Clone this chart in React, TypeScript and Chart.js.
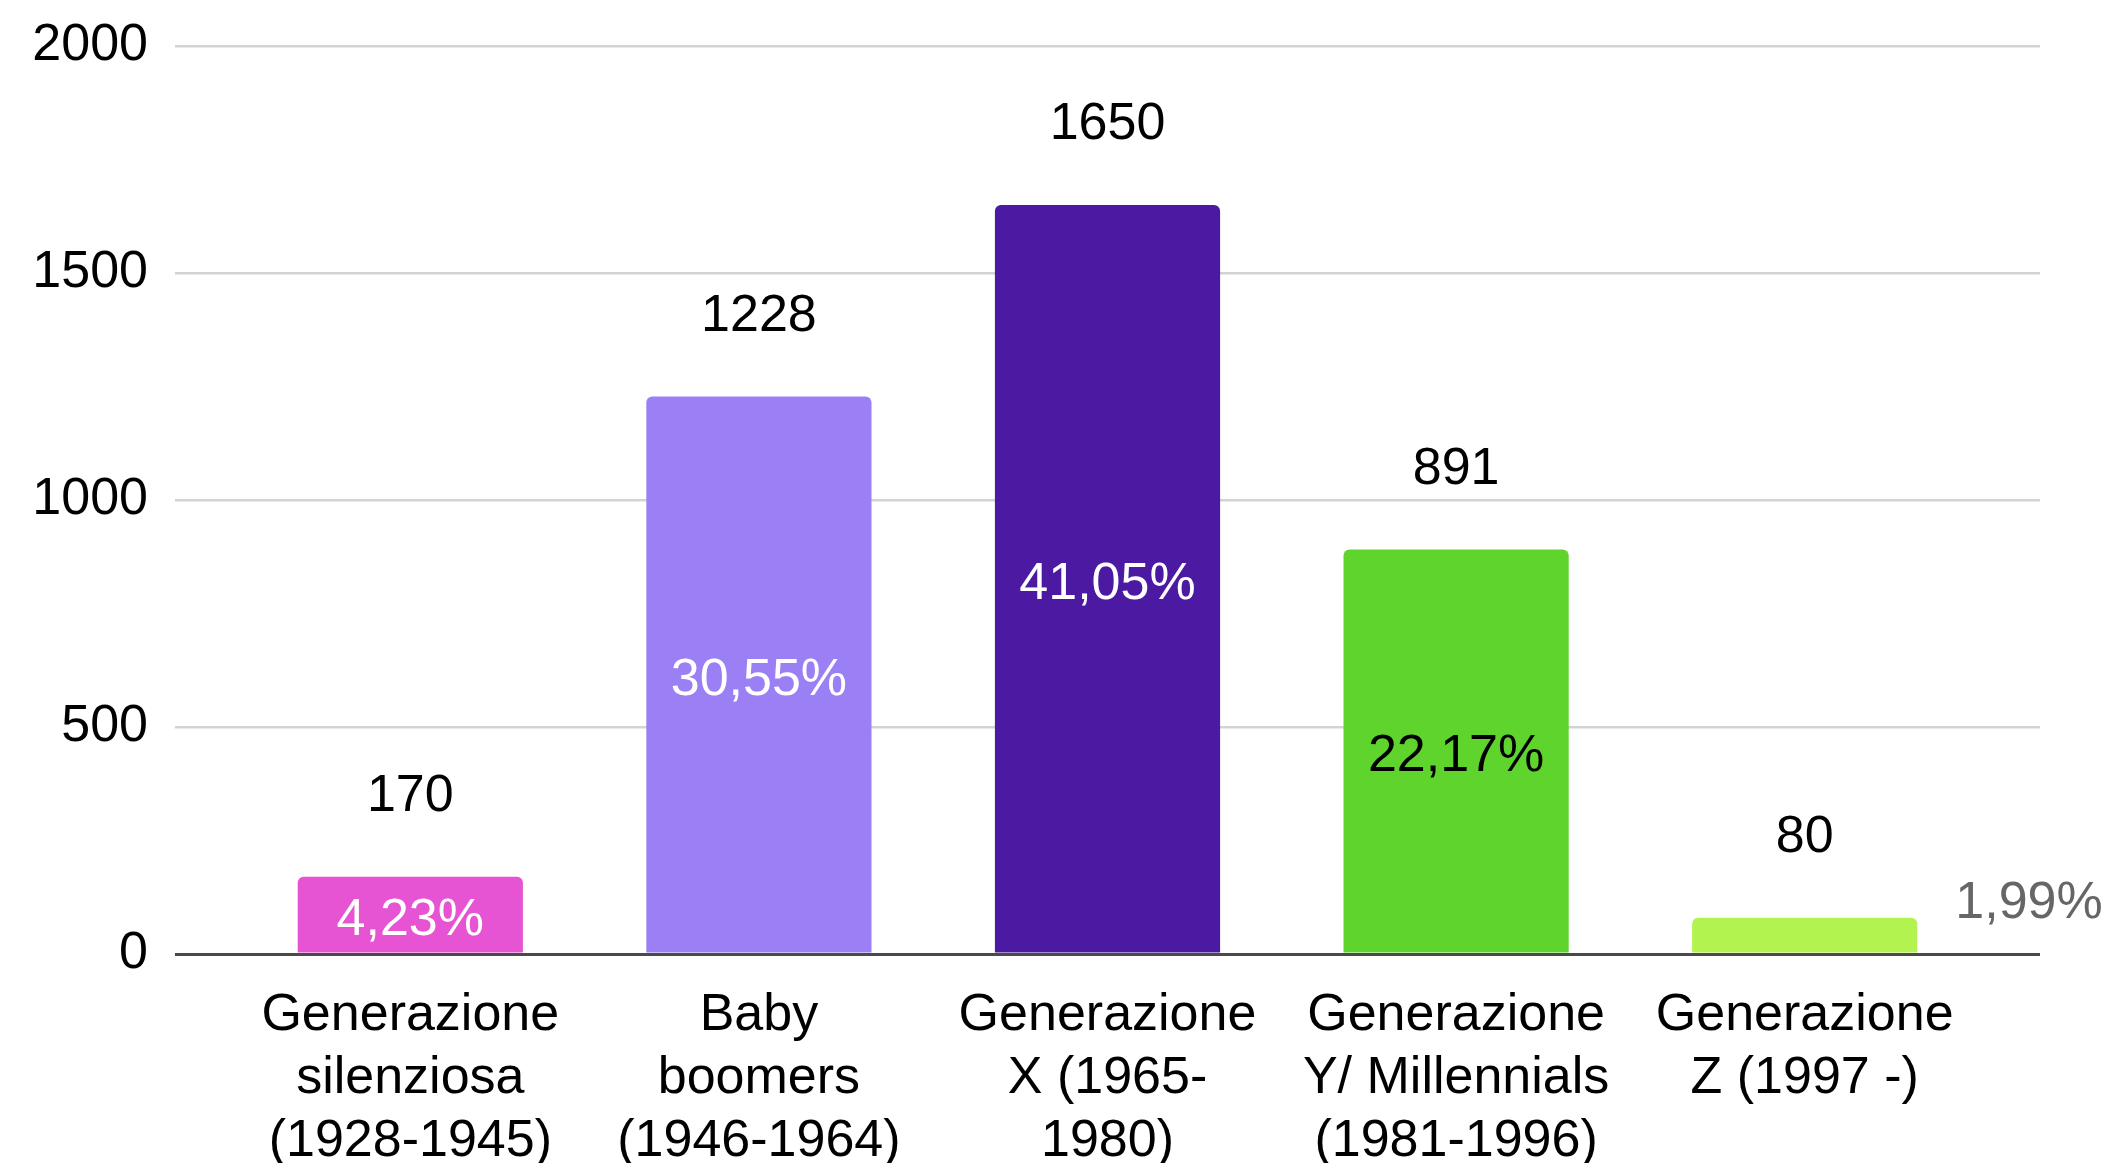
import React, { useEffect, useRef } from "react";
import { Chart, registerables } from "chart.js";

Chart.register(...registerables);

const categories: string[][] = [
  ["Generazione", "silenziosa", "(1928-1945)"],
  ["Baby", "boomers", "(1946-1964)"],
  ["Generazione", "X (1965-", "1980)"],
  ["Generazione", "Y/ Millennials", "(1981-1996)"],
  ["Generazione", "Z (1997 -)"],
];
const counts: number[] = [170, 1228, 1650, 891, 80];
const percentages: number[] = [4.23, 30.55, 41.05, 22.17, 1.99];
const yTicks: number[] = [0, 500, 1000, 1500, 2000];

const barColors = ["#e653d3", "#9b7ff4", "#4c1aa2", "#5ed42d", "#b3f350"];
const pctColors = ["#ffffff", "#ffffff", "#ffffff", "#000000", "#666666"];
const FONT = "'Liberation Sans', Arial, Helvetica, sans-serif";
const FS = 52;

const labelPlugin = {
  id: "barLabels",
  afterDatasetsDraw(chart: any) {
    const ctx = chart.ctx;
    const meta = chart.getDatasetMeta(0);
    ctx.save();
    ctx.font = `${FS}px ${FONT}`;
    meta.data.forEach((bar: any, i: number) => {
      const { x, y, base, width } = bar.getProps(["x", "y", "base", "width"], true);
      ctx.fillStyle = "#000000";
      ctx.textAlign = "center";
      ctx.textBaseline = "middle";
      ctx.fillText(String(counts[i]), x, y - 80);
      const txt = percentages[i].toFixed(2).replace(".", ",") + "%";
      const h = base - y;
      ctx.fillStyle = pctColors[i];
      if (h > FS * 1.2) {
        ctx.textAlign = "center";
        ctx.fillText(txt, x, (y + base) / 2 + 6);
      } else {
        ctx.textAlign = "left";
        ctx.fillText(txt, x + width / 2 + 38, y - 14);
      }
    });
    ctx.restore();
  },
};

export default function App() {
  const ref = useRef<HTMLCanvasElement | null>(null);
  useEffect(() => {
    if (!ref.current) return;
    const chart = new Chart(ref.current, {
      type: "bar",
      data: {
        datasets: [
          {
            data: counts.map((v, i) => ({ x: i, y: v })),
            backgroundColor: barColors,
            borderRadius: 6,
            borderSkipped: "start",
            categoryPercentage: 1,
            barPercentage: 0.646,
          } as any,
        ],
      },
      options: {
        animation: false,
        responsive: true,
        maintainAspectRatio: false,
        layout: { padding: { top: 46, right: 75, left: 0, bottom: 0 } },
        plugins: {
          legend: { display: false },
          tooltip: { enabled: false },
        },
        scales: {
          x: {
            type: "linear",
            offset: false,
            min: -0.675,
            max: 4.675,
            grid: { display: false, drawTicks: false },
            border: { display: false },
            afterBuildTicks: (scale: any) => {
              scale.ticks = categories.map((_, i) => ({ value: i }));
            },
            afterFit: (scale: any) => {
              scale.height = 209;
              scale.paddingLeft = 0;
              scale.paddingRight = 0;
            },
            ticks: {
              autoSkip: false,
              maxRotation: 0,
              minRotation: 0,
              padding: 30,
              color: "#000000",
              font: { family: FONT, size: FS, lineHeight: 1.21 },
              callback: (v: any) => categories[Math.round(Number(v))] ?? "",
            },
          },
          y: {
            min: 0,
            max: 2000,
            afterBuildTicks: (scale: any) => {
              scale.ticks = yTicks.map((v) => ({ value: v }));
            },
            afterFit: (scale: any) => {
              scale.width = 175;
              scale.paddingTop = 0;
              scale.paddingBottom = 0;
            },
            grid: {
              drawTicks: false,
              color: (c: any) => (c.tick && c.tick.value === 0 ? "#4a4a4a" : "#d3d3d3"),
              lineWidth: (c: any) => (c.tick && c.tick.value === 0 ? 3 : 2.5),
            },
            border: { display: false },
            ticks: {
              padding: 27,
              color: "#000000",
              font: { family: FONT, size: FS },
              callback: (v: any) => String(v),
            },
          },
        },
      },
      plugins: [labelPlugin],
    });
    return () => chart.destroy();
  }, []);
  return (
    <div
      style={{
        position: "fixed",
        left: 0,
        top: 0,
        width: "100vw",
        height: "100vh",
        background: "#ffffff",
      }}
    >
      <canvas ref={ref} />
    </div>
  );
}
